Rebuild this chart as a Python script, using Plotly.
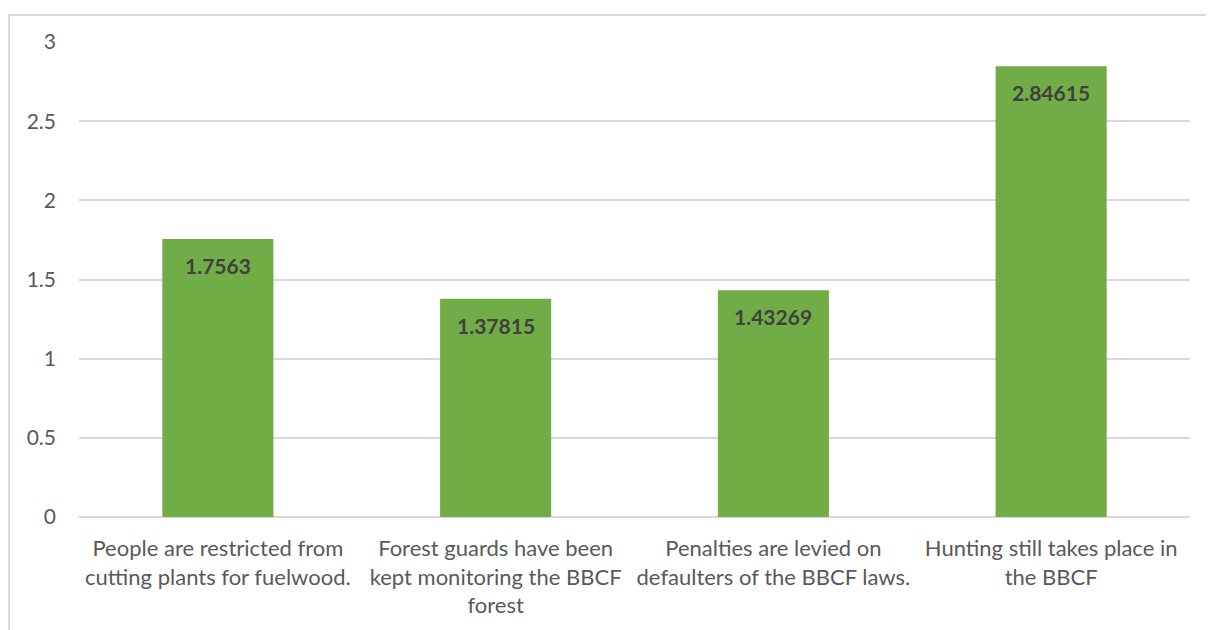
import plotly.graph_objects as go

categories = [
    "People are restricted from<br>cutting plants for fuelwood.",
    "Forest guards have been<br>kept monitoring the BBCF<br>forest",
    "Penalties are levied on<br>defaulters of the BBCF laws.",
    "Hunting still takes place in<br>the BBCF",
]
values = [1.7563, 1.37815, 1.43269, 2.84615]
value_labels = ["1.7563", "1.37815", "1.43269", "2.84615"]
y_ticks = [0, 0.5, 1, 1.5, 2, 2.5, 3]
y_tick_labels = ["0", "0.5", "1", "1.5", "2", "2.5", "3"]

FONT = "Lato"
W, H = 1214, 630
L, R, T, B = 71, 32, 34, 121
pw, ph = W - L - R, H - T - B

fig = go.Figure()
fig.add_trace(go.Bar(
    x=categories, y=values,
    marker=dict(color="#70AD47", line=dict(width=0)),
    hoverinfo="skip",
))

for c, v, t in zip(categories, values, value_labels):
    fig.add_annotation(
        x=c, y=v, text="<b>" + t + "</b>", showarrow=False,
        yanchor="top", yshift=-12,
        font=dict(family=FONT, size=21, color="#404040"),
    )

# chart border (extends past the right and bottom edges)
bx0 = (1 - L) / pw
by1 = 1 + (T - 7) / ph
fig.add_shape(type="rect", xref="paper", yref="paper",
              x0=bx0, x1=1.2, y0=-0.5, y1=by1,
              line=dict(color="#D9D9D9", width=2), fillcolor="rgba(0,0,0,0)", layer="below")

fig.update_layout(
    width=W, height=H,
    margin=dict(l=L, r=R, t=T, b=B, autoexpand=False),
    paper_bgcolor="white", plot_bgcolor="white",
    bargap=0.6, showlegend=False,
    font=dict(family=FONT, color="#595959"),
)
fig.update_xaxes(
    showgrid=False, showline=False, zeroline=False,
    tickfont=dict(family=FONT, size=22, color="#595959"),
    ticks="", ticklabelstandoff=16,
)
fig.update_yaxes(
    range=[0, 3], tickvals=y_ticks, ticktext=y_tick_labels,
    showgrid=True, gridcolor="#D9D9D9", gridwidth=1.5,
    zeroline=True, zerolinecolor="#D9D9D9", zerolinewidth=1.5,
    showline=False, ticks="",
    tickfont=dict(family=FONT, size=21, color="#595959"),
    ticklabelstandoff=22,
)

fig.write_html("out.html")
